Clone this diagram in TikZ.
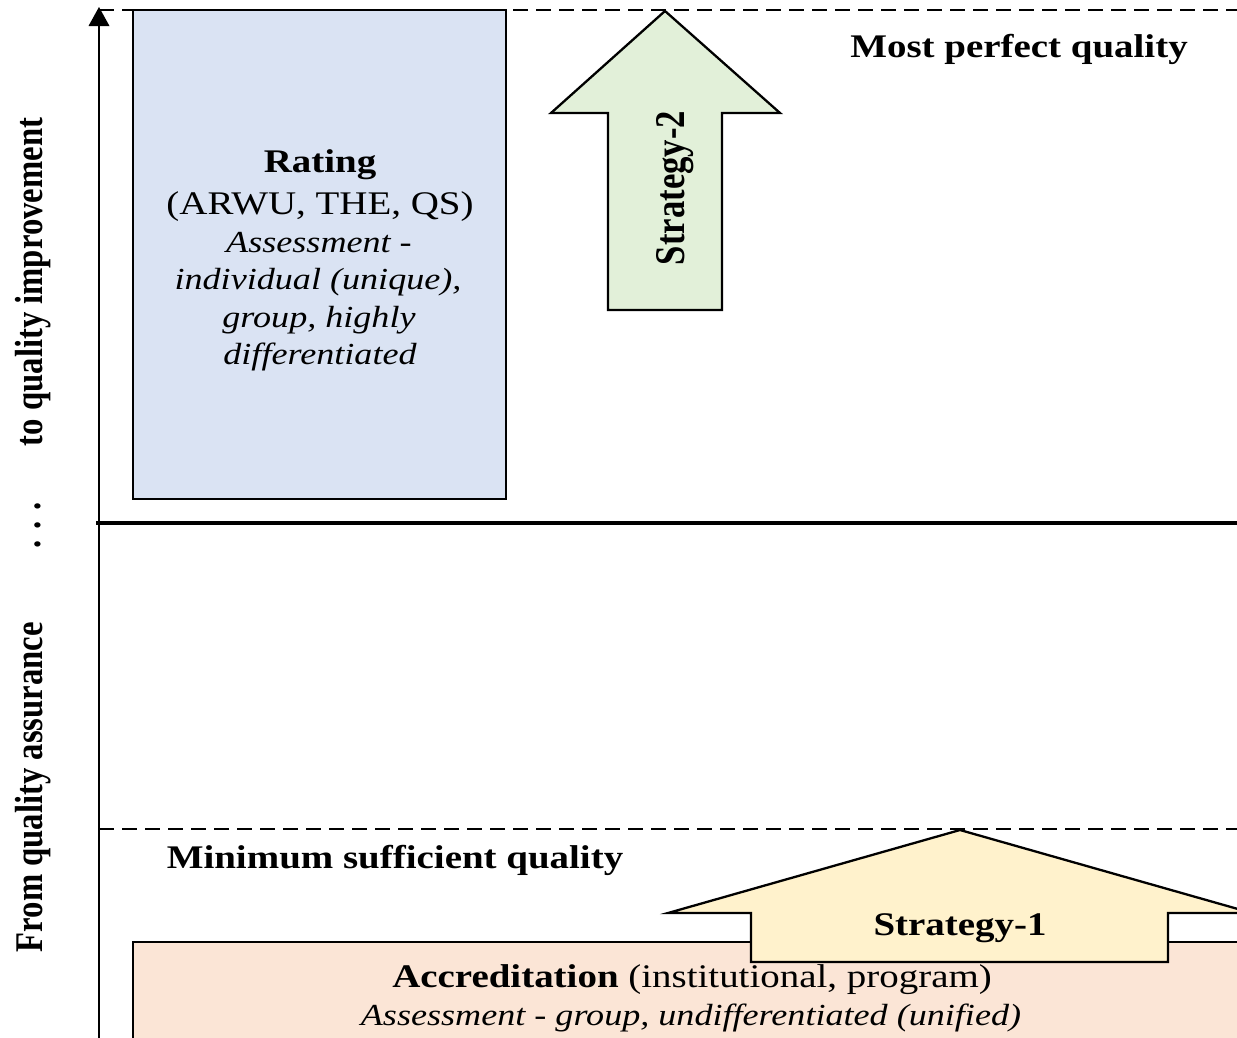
\documentclass[tikz,border=0pt]{standalone}
\usepackage{fontspec}
\setmainfont{Liberation Serif}
\definecolor{rateblue}{HTML}{DAE3F3}
\definecolor{stgreen}{HTML}{E2F0D9}
\definecolor{styellow}{HTML}{FFF2CC}
\definecolor{accpink}{HTML}{FBE5D6}
\begin{document}
\begin{tikzpicture}[x=1pt,y=-1pt,
  hbig/.style={inner sep=0pt, anchor=base, xscale=1.18, font=\fontsize{33}{38}\selectfont},
  hit/.style={inner sep=0pt, anchor=base, xscale=1.18, font=\fontsize{30.6}{36}\selectfont\itshape},
  vlab/.style={inner sep=0pt, anchor=base, xscale=1.2, rotate=90, font=\fontsize{32.7}{36}\selectfont\bfseries},
  vstrat/.style={inner sep=0pt, anchor=base, xscale=1.22, rotate=90, font=\fontsize{34.7}{38}\selectfont\bfseries},
  boxline/.style={draw=black, line width=1.8pt},
  arrowshape/.style={draw=black, line width=2.3pt, line join=miter},
  dashline/.style={line width=2.6pt, dash pattern=on 15pt off 8pt}
]
\useasboundingbox (0,0) rectangle (1237,1037);
\clip (0,0) rectangle (1237,1037);

% level lines
\coordinate (topL) at (99,10);
\coordinate (topR) at (1240,10);
\coordinate (minL) at (99,829);
\coordinate (minR) at (1240,829);
\coordinate (midL) at (96,523);
\coordinate (midR) at (1240,523);
\draw[dashline] (topL) -- (topR);
\draw[dashline] (minL) -- (minR);
\draw[line width=4.8pt] (midL) -- (midR);

% boxes
\draw[boxline, fill=rateblue] (133,10) rectangle (506,499);
\draw[boxline, fill=accpink] (133,942) rectangle (1250,1050);

% strategy arrows
\draw[arrowshape, fill=stgreen] (665,11) -- (780,113) -- (722,113) -- (722,310)
  -- (608,310) -- (608,113) -- (551,113) -- cycle;
\draw[arrowshape, fill=styellow] (960,830) -- (1252,913) -- (1168,913) -- (1168,962)
  -- (751,962) -- (751,913) -- (668,913) -- cycle;

% axis
\coordinate (axb) at (99,1040);
\coordinate (axt) at (99,20);
\coordinate (tip) at (99,7);
\draw[line width=2.8pt] (axb) -- (axt);
\fill (tip) -- (109.5,26) -- (88.5,26) -- cycle;

% texts
\node[hbig] (mpq) at (1019,57) {\textbf{Most perfect quality}};
\node[hbig] (rt1) at (320,172) {\textbf{Rating}};
\node[hbig] (rt2) at (320,214) {(ARWU, THE, QS)};
\node[hit] (rt3) at (319,252) {Assessment -};
\node[hit] (rt4) at (318,289) {individual (unique),};
\node[hit] (rt5) at (319,327) {group, highly};
\node[hit] (rt6) at (320,364) {differentiated};
\node[hbig] (msq) at (395,868) {\textbf{Minimum sufficient quality}};
\node[hbig] (s1) at (960,935) {\textbf{Strategy-1}};
\node[hbig] (acc1) at (692,987) {\textbf{Accreditation} (institutional, program)};
\node[hit] (acc2) at (691,1025) {Assessment - group, undifferentiated (unified)};
\node[vstrat] (s2) at (684,188) {Strategy-2};
\node[vlab] (lab1) at (42,787) {From quality assurance};
\node[vlab] (lab2) at (42,282) {to quality improvement};
\node[vlab] (dots) at (40,525) {. . .};
\end{tikzpicture}
\end{document}
